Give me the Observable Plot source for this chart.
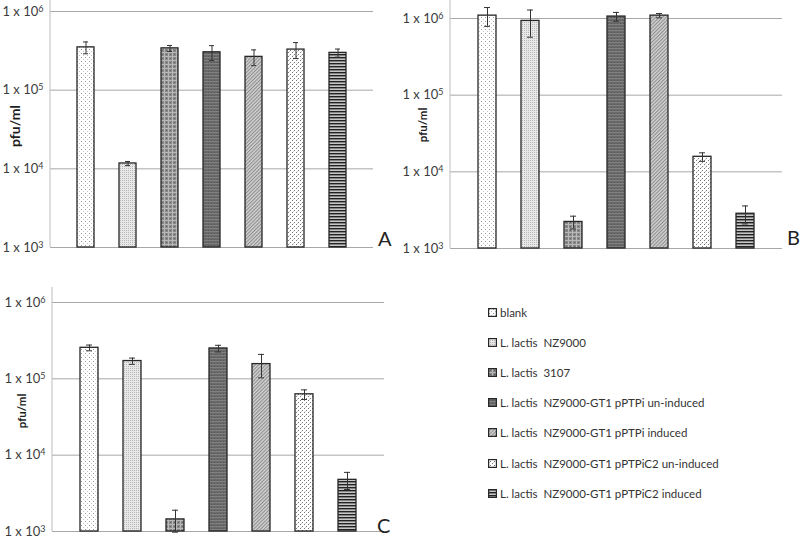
<!DOCTYPE html>
<html><head><meta charset="utf-8">
<script src="https://cdn.jsdelivr.net/npm/d3@7"></script>
<script src="https://cdn.jsdelivr.net/npm/@observablehq/plot@0.6"></script>
<style>
body{margin:0;background:#fff;width:800px;height:538px;position:relative;overflow:hidden;font-family:Lato,"Liberation Sans",sans-serif;}
.panel{position:absolute;}
#legend{position:absolute;left:488px;top:0;font-size:11.5px;color:#333;}
.row{position:absolute;left:0;white-space:pre;display:flex;align-items:center;height:14px;}
.row svg{margin-right:3px;}
</style></head><body>
<svg width="0" height="0" style="position:absolute;left:0;top:0"><defs>
<pattern id="p0" width="4" height="4" patternUnits="userSpaceOnUse"><rect width="4" height="4" fill="#fff"/><rect x="1" y="1" width="1" height="1" fill="#9a9a9a"/><rect x="3" y="3" width="1" height="1" fill="#c4c4c4"/></pattern>
<pattern id="p1" width="2" height="2" patternUnits="userSpaceOnUse"><rect width="2" height="2" fill="#e8e8e8"/><rect width="1" height="1" fill="#b8b8b8"/></pattern>
<pattern id="p2" width="4" height="4" patternUnits="userSpaceOnUse"><rect width="4" height="4" fill="#888"/><rect width="4" height="1" fill="#b8b8b8"/><rect width="1" height="4" fill="#b8b8b8"/><rect x="2" y="2" width="1" height="1" fill="#666"/></pattern>
<pattern id="p3" width="3" height="3" patternUnits="userSpaceOnUse"><rect width="3" height="3" fill="#6a6a6a"/><rect width="3" height="1" fill="#808080"/><rect x="1" y="2" width="1" height="1" fill="#555"/></pattern>
<pattern id="p4" width="2.5" height="2.5" patternUnits="userSpaceOnUse" patternTransform="rotate(45)"><rect width="2.5" height="2.5" fill="#d0d0d0"/><rect width="1" height="2.5" fill="#8c8c8c"/></pattern>
<pattern id="p5" width="4" height="4" patternUnits="userSpaceOnUse"><rect width="4" height="4" fill="#fff"/><rect x="0" y="0" width="1" height="1" fill="#7a7a7a"/><rect x="2" y="2" width="1" height="1" fill="#7a7a7a"/><rect x="1" y="3" width="1" height="1" fill="#d0d0d0"/></pattern>
<pattern id="p6" width="3" height="3" patternUnits="userSpaceOnUse"><rect width="3" height="3" fill="#c6c6c6"/><rect width="3" height="1.4" fill="#222"/></pattern>
</defs></svg>
<div id="A" class="panel" style="left:0;top:0"></div>
<div id="B" class="panel" style="left:400px;top:0"></div>
<div id="C" class="panel" style="left:0;top:280px"></div>
<div id="legend"></div>
<script>
const categories = ["blank", "L. lactis  NZ9000", "L. lactis  3107", "L. lactis  NZ9000-GT1 pPTPi un-induced", "L. lactis  NZ9000-GT1 pPTPi induced", "L. lactis  NZ9000-GT1 pPTPiC2 un-induced", "L. lactis  NZ9000-GT1 pPTPiC2 induced"];
const valuesA = [350000, 11700, 340000, 303000, 265000, 328000, 298000];
const errorsA = [60000, 700, 30000, 65000, 60000, 75000, 35000];
const valuesB = [1090000, 930000, 2220, 1060000, 1090000, 15700, 2840];
const errorsB = [300000, 360000, 420, 140000, 70000, 2000, 750];
const valuesC = [255000, 171000, 1440, 250000, 156000, 62700, 4750];
const errorsC = [22000, 16000, 460, 25000, 53000, 9000, 1200];
const yTicks = [1e3, 1e4, 1e5, 1e6];
const yLabel = "pfu/ml";
const panelLetters = ["A", "B", "C"];

function panel(id, values, errors, letter, cfg) {
  const data = categories.map((c, i) => ({c, i, v: values[i], e: errors[i]}));
  const plot = Plot.plot({
    width: cfg.w, height: cfg.h,
    marginLeft: cfg.ml, marginRight: cfg.mr, marginTop: cfg.mt, marginBottom: cfg.mb,
    style: {fontFamily: "Lato, 'Liberation Sans', sans-serif", fontSize: "13px", color: "#3c3c3c", background: "transparent"},
    x: {domain: categories, padding: 0.59, axis: null},
    y: {type: "log", domain: [1e3, 1e6], axis: null},
    marks: [
      Plot.ruleY(yTicks, {stroke: "#a8a8a8", strokeWidth: 1}),
      Plot.axisY({ticks: yTicks, tickSize: 0, tickPadding: 7, fontSize: 13, tickFormat: d => "1 x 10" + Math.round(Math.log10(d)), label: null}),
      ...data.map(d => Plot.barY([d], {x: "c", y1: 1e3, y2: "v", fill: `url(#p${d.i})`, stroke: "#262626", strokeWidth: 1.3})),
      Plot.ruleX(data, {x: "c", y1: d => d.v - d.e, y2: d => d.v + d.e, stroke: "#333", strokeWidth: 1}),
      Plot.tickY(data, {x: "c", y: d => d.v + d.e, inset: 6, stroke: "#333", strokeWidth: 1}),
      Plot.tickY(data, {x: "c", y: d => d.v - d.e, inset: 6, stroke: "#333", strokeWidth: 1})
    ]
  });
  const svg = d3.select(plot);
  svg.selectAll("text").each(function() {
    const m = /^1 x 10(\d)$/.exec(this.textContent);
    if (m) {
      const t = d3.select(this);
      t.text("1 x 10");
      t.append("tspan").attr("dy", "-0.45em").attr("font-size", "9px").text(m[1]);
    }
  });
  svg.append("line").attr("x1", cfg.ml).attr("x2", cfg.ml).attr("y1", cfg.axisTop).attr("y2", cfg.h - cfg.mb)
    .attr("stroke", "#bdbdbd").attr("stroke-width", 1);
  svg.append("text").attr("transform", `translate(${cfg.lx},${cfg.ly}) rotate(-90)`).attr("text-anchor", "middle")
    .attr("dy", "0.35em").attr("font-weight", "bold").attr("font-size", cfg.lf + "px").attr("fill", "#1e1e1e").text(yLabel);
  svg.append("text").attr("x", cfg.tx).attr("y", cfg.ty).attr("font-size", "20px").attr("fill", "#222").attr("text-anchor", "start").text(letter);
  document.getElementById(id).appendChild(plot);
}

panel("A", valuesA, errorsA, panelLetters[0], {w: 400, h: 260, ml: 50, mr: 27, mt: 11, mb: 13, axisTop: 0, lx: 15, ly: 126, lf: 14, tx: 378, ty: 246});
panel("B", valuesB, errorsB, panelLetters[1], {w: 400, h: 260, ml: 50, mr: 18, mt: 18, mb: 12, axisTop: 0, lx: 22.5, ly: 125, lf: 11.5, tx: 387, ty: 245});
panel("C", valuesC, errorsC, panelLetters[2], {w: 400, h: 258, ml: 52, mr: 16, mt: 22, mb: 7, axisTop: 7, lx: 22, ly: 131, lf: 11.5, tx: 377, ty: 253});

const legend = document.getElementById("legend");
categories.forEach((c, i) => {
  const row = document.createElement("div");
  row.className = "row";
  row.style.top = (305 + i * 30.2) + "px";
  row.innerHTML = `<svg width="9" height="9"><rect x="0.6" y="0.6" width="7.8" height="7.8" fill="url(#p${i})" stroke="#262626" stroke-width="1.2"/></svg><span>${c}</span>`;
  legend.appendChild(row);
});
</script>
</body></html>
